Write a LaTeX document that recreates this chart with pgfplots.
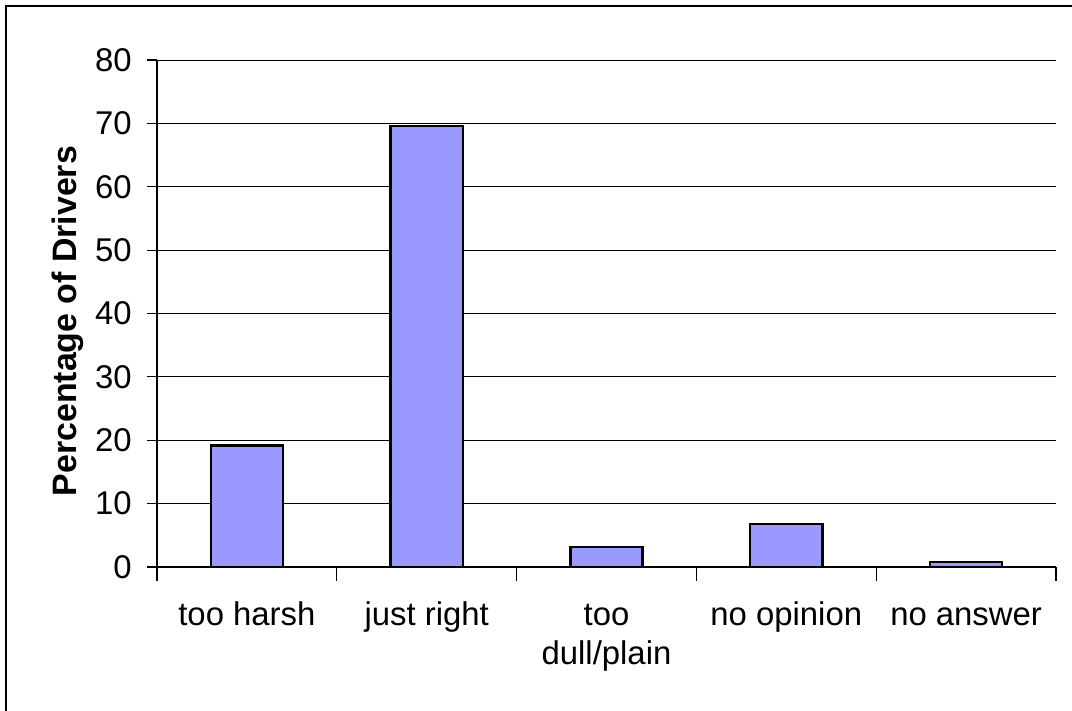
\documentclass[border=0pt]{standalone}
\usepackage{fontspec}
\setmainfont{Liberation Sans}
\usepackage{pgfplots}
\pgfplotsset{compat=1.18}
\definecolor{barfill}{HTML}{9999FF}
\begin{document}
\fontsize{16.5}{19}\selectfont
\begin{tikzpicture}
\useasboundingbox (0bp,0bp) rectangle (536bp,355.5bp);
\draw[line width=1bp] (3bp,0bp) -- (3bp,352.5bp) -- (536bp,352.5bp);
\begin{axis}[
  at={(78.5bp,72bp)}, anchor=south west, scale only axis,
  width=449.5bp, height=253.5bp,
  xmin=-0.5, xmax=4.5, ymin=0, ymax=80,
  ytick={0,10,...,80},
  xtick={0,1,2,3,4},
  xticklabels={{\strut too harsh}, {\strut just right}, {\strut too\\\strut dull/plain}, {\strut no opinion}, {\strut no answer}},
  minor xtick={-0.5,0.5,...,4.5},
  axis x line*=bottom, axis y line*=left,
  axis line style={-, line width=0.8bp},
  major x tick style={draw=none},
  tick align=outside,
  major tick length=5bp, minor tick length=7bp,
  tick style={black, line width=0.6bp},
  ymajorgrids, grid style={black, line width=0.5bp},
  /pgf/number format/assume math mode=true,
  ticklabel style={font=\fontsize{16.5}{19.5}\selectfont},
  xticklabel style={align=center, anchor=north, yshift=-5bp},
  yticklabel style={xshift=-2bp},
  ylabel={\textbf{Percentage of Drivers}},
  ylabel style={at={(axis description cs:-0.099,0.485)}, anchor=center, font=\fontsize{17}{20}\selectfont},
  ybar, bar width=36bp, bar shift=0pt,
]
\addplot[fill=barfill, draw=black, line width=1.2bp] coordinates {(0,19.2) (1,69.6) (2,3.2) (3,6.8) (4,0.8)};
\end{axis}
\end{tikzpicture}
\end{document}
